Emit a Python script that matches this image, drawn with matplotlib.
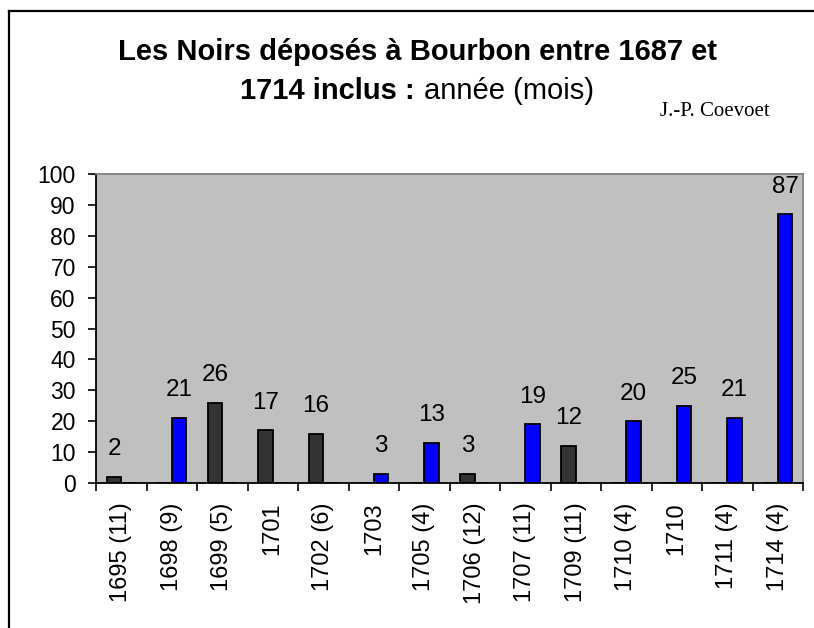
import numpy as np
import matplotlib
matplotlib.use("Agg")
import matplotlib.pyplot as plt
from matplotlib.lines import Line2D

# data
categories = ["1695 (11)", "1698 (9)", "1699 (5)", "1701", "1702 (6)", "1703",
              "1705 (4)", "1706 (12)", "1707 (11)", "1709 (11)", "1710 (4)",
              "1710", "1711 (4)", "1714 (4)"]
dark_values = [2, 0, 26, 17, 16, 0, 0, 3, 0, 12, 0, 0, 0, 0]
blue_values = [0, 21, 0, 0, 0, 3, 13, 0, 19, 0, 20, 25, 21, 87]

W, H = 814, 628
plt.rcParams['font.family'] = ['Liberation Sans', 'DejaVu Sans']

fig = plt.figure(figsize=(W / 100, H / 100), dpi=100)
ax = fig.add_axes([96 / W, 1 - 483 / H, 707 / W, 309 / H])
ax.set_facecolor('#C0C0C0')

x = np.arange(len(categories))
bw = 0.29
off = 0.143
dark = np.array(dark_values)
blue = np.array(blue_values)
ax.bar(x - off, dark, bw, color='#333333', edgecolor='black', linewidth=1.3)
ax.bar(x + off, blue, bw, color='#0000FF', edgecolor='black', linewidth=1.3)

for xi, v in zip(x - off, dark):
    if v:
        ax.annotate(str(v), (xi, v), xytext=(0, 12), textcoords='offset points',
                    ha='center', va='bottom', fontsize=17.5)
for xi, v in zip(x + off, blue):
    if v:
        ax.annotate(str(v), (xi, v), xytext=(0, 12), textcoords='offset points',
                    ha='center', va='bottom', fontsize=17.5)

ax.set_xlim(-0.5, len(categories) - 0.5)
ax.set_ylim(0, 100)
ax.set_yticks(range(0, 101, 10))
ax.tick_params(axis='y', labelsize=16.5, length=5.5, width=1.2, pad=9, direction='out')

# major ticks on category borders, labels on centers
ax.set_xticks(np.arange(-0.5, len(categories), 1.0))
ax.set_xticklabels([])
ax.tick_params(axis='x', which='major', length=6, width=1.2, direction='out')
ax.set_xticks(x, minor=True)
ax.set_xticklabels(categories, minor=True, rotation=90, ha='center', va='top',
                   fontsize=17)
ax.tick_params(axis='x', which='minor', length=0, pad=14)

for s in ['left', 'bottom']:
    ax.spines[s].set_color('black')
    ax.spines[s].set_linewidth(1.3)
for s in ['top', 'right']:
    ax.spines[s].set_color('#808080')
    ax.spines[s].set_linewidth(1.3)

# title
fig.text(417 / W, 1 - 60 / H, "Les Noirs déposés à Bourbon entre 1687 et",
         ha='center', va='baseline', fontsize=21, fontweight='bold')
fig.text(415 / W, 1 - 99 / H, "1714 inclus :", ha='right', va='baseline',
         fontsize=21, fontweight='bold')
fig.text(424 / W, 1 - 99 / H, "année (mois)", ha='left', va='baseline',
         fontsize=21)
fig.text(715 / W, 1 - 112 / H, "J.-P. Coevoet", ha='center', va='center',
         fontsize=15, family='Liberation Serif')

# outer frame
fig.add_artist(Line2D([8.5 / W, 8.5 / W], [0, 1 - 10.5 / H], color='black', lw=1.6))
fig.add_artist(Line2D([8.5 / W, 1], [1 - 10.5 / H, 1 - 10.5 / H], color='black', lw=1.6))

fig.savefig("out.png", dpi=100)
